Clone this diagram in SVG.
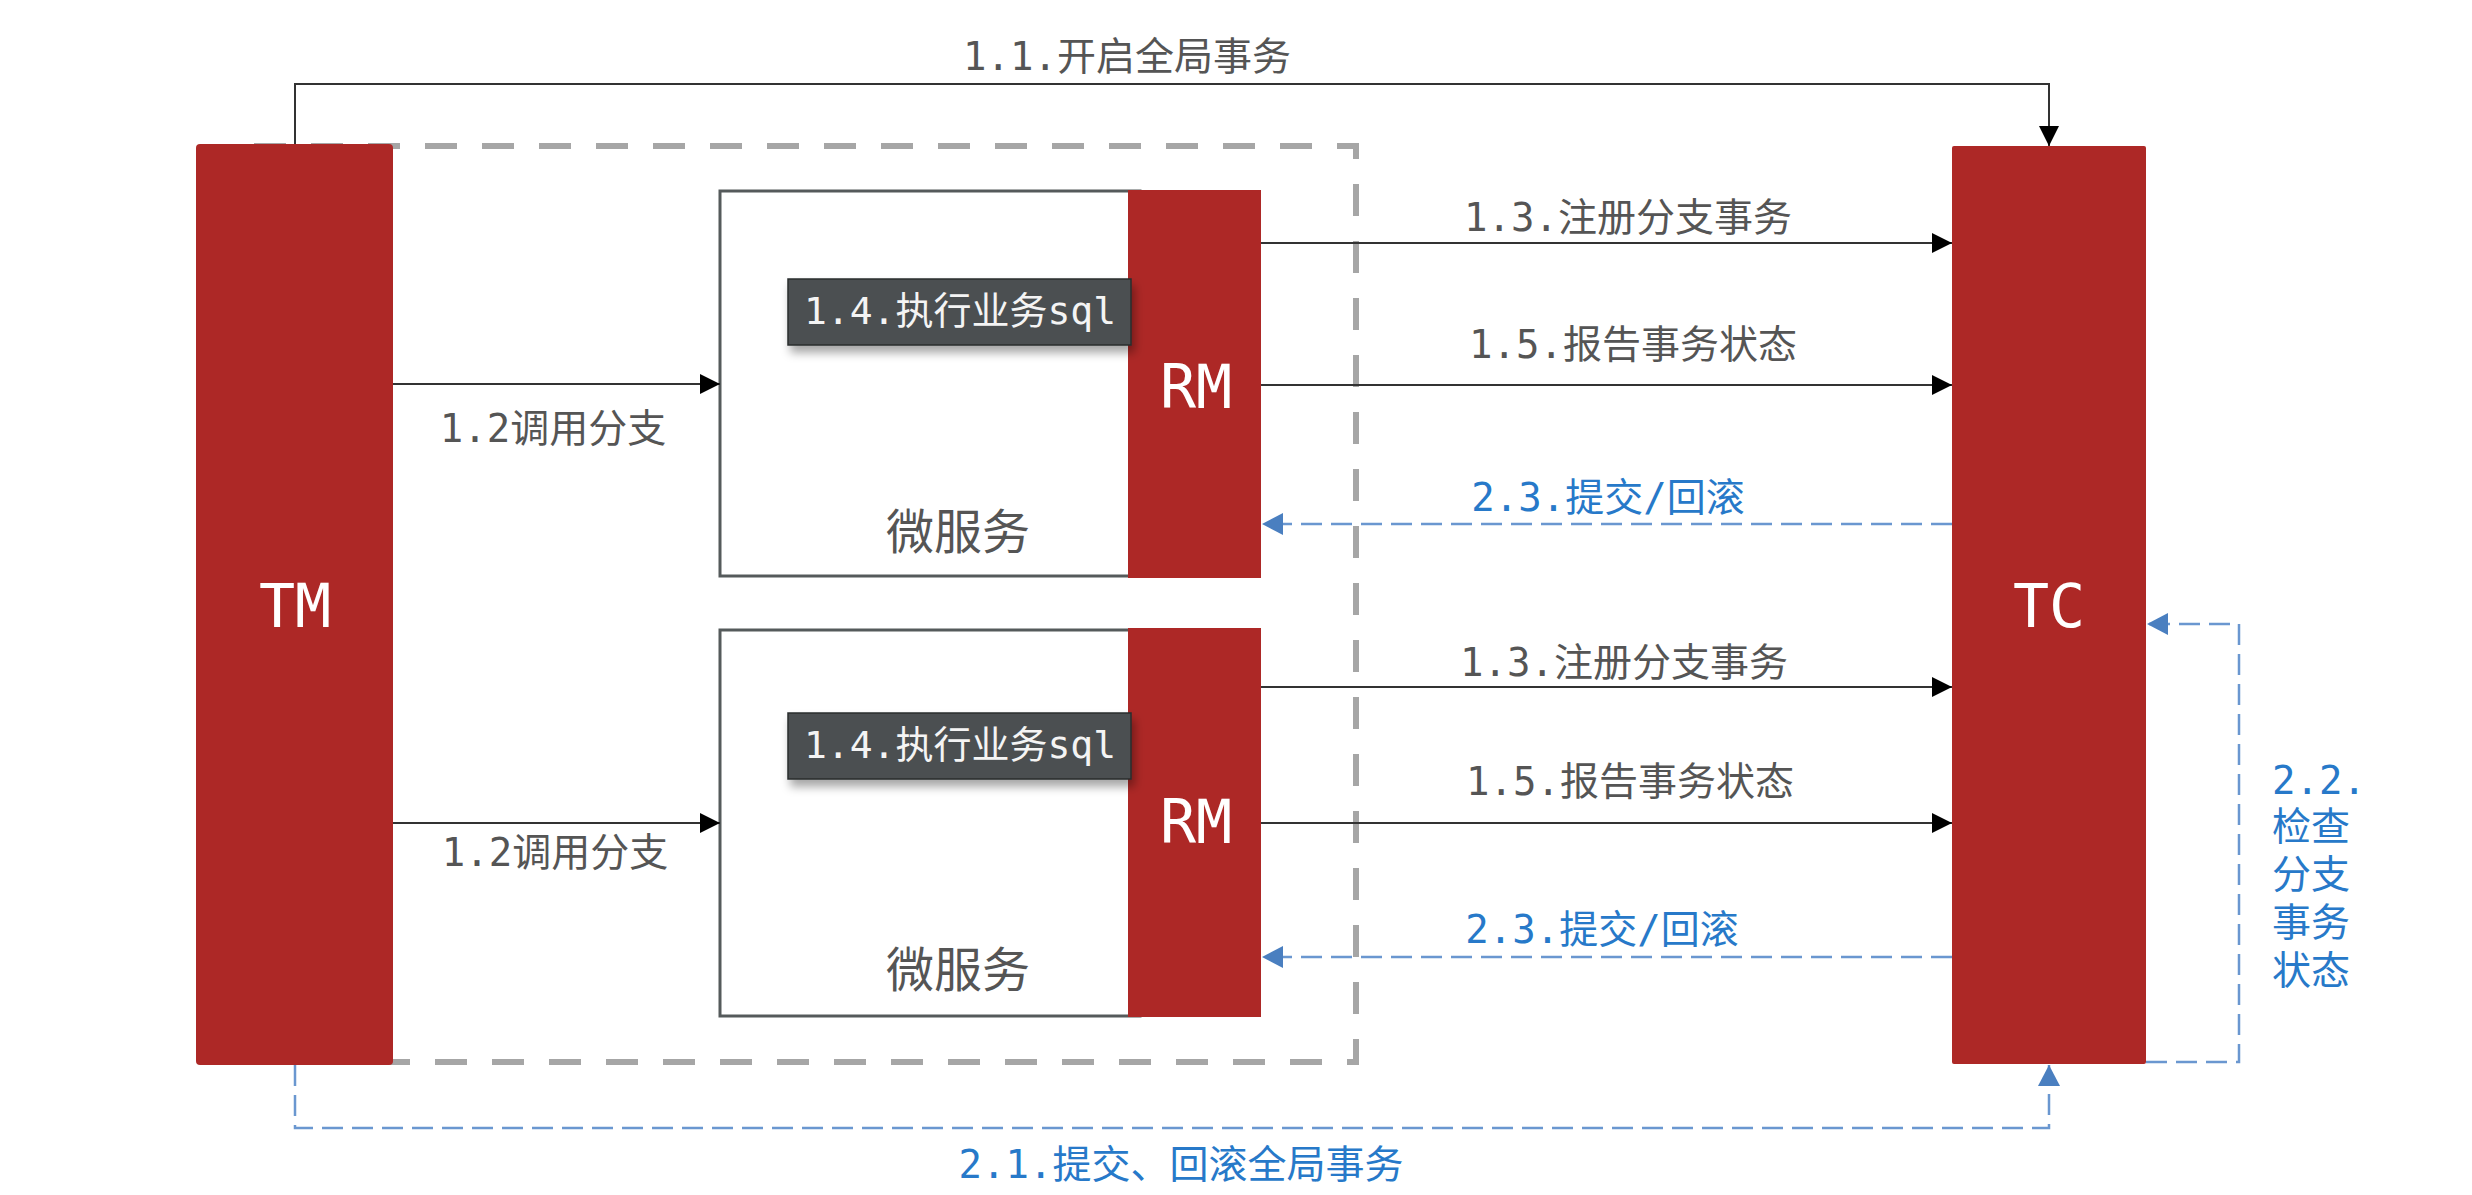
<svg xmlns="http://www.w3.org/2000/svg" width="2472" height="1195" viewBox="0 0 2472 1195">
  <style>
    .red { fill: #ad2826; }
    .big { font-family: "DejaVu Sans Mono", "Noto Sans CJK SC", monospace; font-size: 60px; fill: #ffffff; text-anchor: middle; }
    .lbl { font-family: "DejaVu Sans Mono", "Noto Sans CJK SC", monospace; font-size: 39px; fill: #555555; }
    .blue { font-family: "DejaVu Sans Mono", "Noto Sans CJK SC", monospace; font-size: 39px; fill: #2779c9; }
    .svc { font-family: "Noto Sans CJK SC", sans-serif; font-size: 48px; fill: #555555; text-anchor: middle; }
    .sql { font-family: "DejaVu Sans Mono", "Noto Sans CJK SC", monospace; font-size: 38px; fill: #f4f4f4; text-anchor: middle; }
    .mid { text-anchor: middle; }
    .solid { fill: none; stroke: #333333; stroke-width: 2; }
    .dash { fill: none; stroke: #6a97d0; stroke-width: 2.5; stroke-dasharray: 21 9; }
    .box { fill: #ffffff; stroke: #555a5b; stroke-width: 3; }
    .sqlbox { fill: #4b5051; stroke: #2a2c2d; stroke-width: 1.5; }
  </style>
  <defs>
    <marker id="ab" markerUnits="userSpaceOnUse" markerWidth="20" markerHeight="20" refX="20" refY="10" orient="auto">
      <path d="M0,0 L20,10 L0,20 z" fill="#000000"/>
    </marker>
    <marker id="abl" markerUnits="userSpaceOnUse" markerWidth="22" markerHeight="22" refX="21" refY="11" orient="auto">
      <path d="M0,0 L21,11 L0,22 z" fill="#4a7fc0"/>
    </marker>
    <filter id="sh" x="-10%" y="-30%" width="130%" height="180%">
      <feDropShadow dx="3" dy="7" stdDeviation="5" flood-color="#000000" flood-opacity="0.35"/>
    </filter>
  </defs>

  <g id="container">
    <rect x="254" y="146" width="1102" height="916" fill="none" stroke="#a6a6a6" stroke-width="6" stroke-dasharray="32 25"/>
  </g>

  <g id="TM">
    <rect x="196" y="144" width="197" height="921" rx="4" class="red"/>
    <text x="295" y="627" class="big">TM</text>
  </g>

  <g id="TC">
    <rect x="1952" y="146" width="194" height="918" rx="2" class="red"/>
    <text x="2049" y="627" class="big">TC</text>
  </g>

  <g id="service1">
    <rect x="720" y="191" width="420" height="385" class="box"/>
    <rect x="1128" y="190" width="133" height="388" class="red"/>
    <text x="1196" y="408" class="big">RM</text>
    <text x="958" y="549" class="svc">微服务</text>
    <rect x="788" y="279" width="343" height="66" class="sqlbox" filter="url(#sh)"/>
    <text x="960" y="324" class="sql">1.4.执行业务sql</text>
  </g>

  <g id="service2">
    <rect x="720" y="630" width="420" height="386" class="box"/>
    <rect x="1128" y="628" width="133" height="389" class="red"/>
    <text x="1196" y="843" class="big">RM</text>
    <text x="958" y="987" class="svc">微服务</text>
    <rect x="788" y="713" width="343" height="66" class="sqlbox" filter="url(#sh)"/>
    <text x="960" y="758" class="sql">1.4.执行业务sql</text>
  </g>

  <g id="connectors">
    <path d="M295,144 V84 H2049 V146" class="solid" marker-end="url(#ab)"/>
    <path d="M393,384 H720" class="solid" marker-end="url(#ab)"/>
    <path d="M393,823 H720" class="solid" marker-end="url(#ab)"/>
    <path d="M1261,243 H1952" class="solid" marker-end="url(#ab)"/>
    <path d="M1261,385 H1952" class="solid" marker-end="url(#ab)"/>
    <path d="M1261,687 H1952" class="solid" marker-end="url(#ab)"/>
    <path d="M1261,823 H1952" class="solid" marker-end="url(#ab)"/>
    <path d="M1952,524 H1262" class="dash" marker-end="url(#abl)"/>
    <path d="M1952,957 H1262" class="dash" marker-end="url(#abl)"/>
    <path d="M2146,1062 H2239 V624 H2147" class="dash" marker-end="url(#abl)"/>
    <path d="M295,1065 V1128 H2049 V1065" class="dash" marker-end="url(#abl)"/>

    <text x="1127" y="70" class="lbl mid">1.1.开启全局事务</text>
    <text x="553" y="442" class="lbl mid">1.2调用分支</text>
    <text x="555" y="866" class="lbl mid">1.2调用分支</text>
    <text x="1628" y="231" class="lbl mid">1.3.注册分支事务</text>
    <text x="1633" y="358" class="lbl mid">1.5.报告事务状态</text>
    <text x="1624" y="676" class="lbl mid">1.3.注册分支事务</text>
    <text x="1630" y="795" class="lbl mid">1.5.报告事务状态</text>
    <text x="1608" y="511" class="blue mid">2.3.提交/回滚</text>
    <text x="1602" y="943" class="blue mid">2.3.提交/回滚</text>
    <text x="1181" y="1178" class="blue mid">2.1.提交、回滚全局事务</text>
    <text class="blue">
      <tspan x="2272" y="794">2.2.</tspan>
      <tspan x="2272" y="840">检查</tspan>
      <tspan x="2272" y="888">分支</tspan>
      <tspan x="2272" y="936">事务</tspan>
      <tspan x="2272" y="984">状态</tspan>
    </text>
  </g>
</svg>
